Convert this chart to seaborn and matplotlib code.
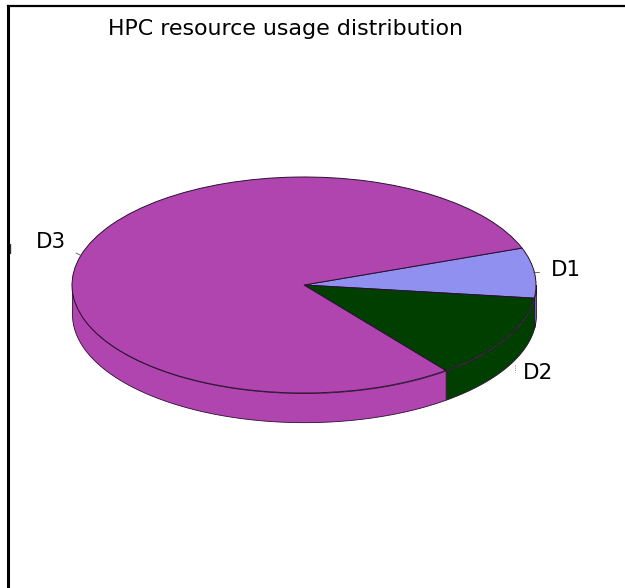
import numpy as np
import matplotlib
matplotlib.use("Agg")
import matplotlib.pyplot as plt
import seaborn as sns

labels = ["D1", "D2", "D3"]
usage = [7.5, 12.6, 79.9]
colores = ["#9090F0", "#003F00", "#B045B0"]
inicio = 20
grosor = 0.27

sns.set_theme(style="white")
plt.rcParams["font.family"] = ["DejaVu Sans"]

fig = plt.figure(figsize=(6.25, 5.88), dpi=100)
ax = fig.add_axes([8 / 625, 0, 617 / 625, 582 / 588])

# pared lateral del disco, por debajo de la tapa
angulos = inicio - np.cumsum([0] + usage) * 3.6
for i in range(len(usage)):
    ini = max(angulos[i + 1], -180)
    fin = min(angulos[i], 0)
    if ini >= fin:
        continue
    t = np.radians(np.linspace(ini, fin, 100))
    ax.fill_between(np.cos(t), np.sin(t), np.sin(t) - grosor, color=colores[i],
                    edgecolor="#2a1030", linewidth=0.6, zorder=1)

ax.pie(usage, colors=colores, startangle=inicio, counterclock=False, frame=True,
       wedgeprops={"edgecolor": "#2a1030", "linewidth": 0.7, "zorder": 2})
ax.set_aspect("auto")
ax.set_xlim((8 - 304) / 232, (625 - 304) / 232)
ax.set_ylim((285 - 588) / 108, (285 - 6) / 108)
ax.set_xticks([])
ax.set_yticks([])

for lado in ["right", "bottom"]:
    ax.spines[lado].set_visible(False)
ax.spines["left"].set_linewidth(2.2)
ax.spines["top"].set_linewidth(1.6)
ax.spines["left"].set_color("black")
ax.spines["top"].set_color("black")

fig.text(286 / 625, 1 - 29 / 588, "HPC resource usage distribution", fontsize=15.9,
         ha="center", va="center", color="black")

# etiquetas y marcas guia
pos_labels = {"D1": (566, 270), "D2": (538, 373), "D3": (51, 242)}
guias = {"D1": ((533, 539), (272, 272)), "D2": ((515, 515), (365, 372)), "D3": ((76, 82), (253, 256))}
for nombre in labels:
    x, y = pos_labels[nombre]
    ax.text((x - 304) / 232, (285 - y) / 108, nombre, fontsize=15.5, ha="center", va="center", color="black")
    gx, gy = guias[nombre]
    ax.plot([(v - 304) / 232 for v in gx], [(285 - v) / 108 for v in gy], color="#555555", lw=0.6,
            ls=":" if nombre == "D2" else "-", zorder=3)

# resto de etiqueta cortada junto al borde izquierdo
ax.plot([(10 - 304) / 232, (10 - 304) / 232], [(285 - 244) / 108, (285 - 253) / 108], color="#333333", lw=1.0)

plt.savefig("out.png", dpi=100)
plt.close()
